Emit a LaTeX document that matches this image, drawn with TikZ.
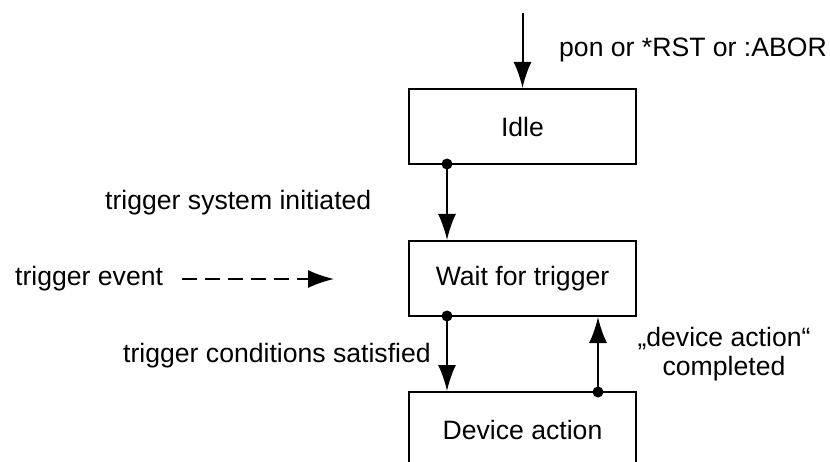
\documentclass[tikz,border=0pt]{standalone}
\usepackage{fontspec}
\setmainfont{Liberation Sans}
\usetikzlibrary{arrows.meta}
\begin{document}
\begin{tikzpicture}[x=1pt, y=-1pt, font=\fontsize{26.6}{29}\selectfont,
  state/.style={draw, line width=2pt, fill=white, minimum width=227pt, minimum height=75pt, inner sep=0pt},
  flow/.style={line width=2pt, -{Latex[length=26pt, width=18pt]}},
  event/.style={line width=1.7pt, dash pattern=on 15pt off 8pt, -{Latex[length=26pt, width=18pt]}},
  dot/.style={circle, fill, inner sep=0pt, minimum size=11pt},
  lbl/.style={inner sep=0pt}]
\useasboundingbox (0,0) rectangle (830,462);
% states
\node[state] (idle) at (522.5,126.5) {Idle};
\node[state] (wait) at (522.5,278.5) {Wait for trigger};
\node[state] (act) at (522.5,429.5) {Device action};
% entry
\coordinate (start) at (522.5,13);
\draw[flow] (start) -- (idle.north);
\node[lbl, anchor=base west] (pon) at (559,57) {pon or *RST or :ABOR};
% idle -> wait
\node[dot] (d1) at (447,164) {};
\draw[flow] (d1.center) -- (d1 |- wait.north);
\node[lbl, anchor=base west] (init) at (105,210) {trigger system initiated};
% trigger event
\node[lbl, anchor=base west] (ev) at (15,286) {trigger event};
\coordinate (evs) at (182,279);
\coordinate (eve) at (334,279);
\draw[event] (evs) -- (eve);
% wait -> action
\node[dot] (d2) at (447,316) {};
\draw[flow] (d2.center) -- (d2 |- act.north);
\node[lbl, anchor=base west] (cond) at (123,362) {trigger conditions satisfied};
% action -> wait
\node[dot] (d3) at (598,392) {};
\draw[flow] (d3.center) -- (d3 |- wait.south);
\node[lbl, align=center, anchor=base] (done) at (724,375) {„device action“\\completed};
\end{tikzpicture}
\end{document}
